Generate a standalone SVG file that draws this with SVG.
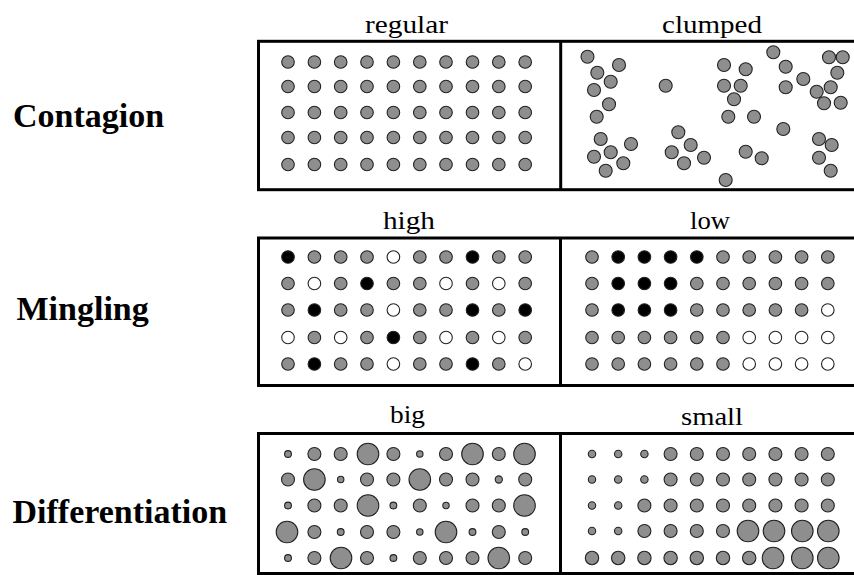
<svg xmlns="http://www.w3.org/2000/svg" width="854" height="575" viewBox="0 0 854 575">
<style>
.lab{font-family:"Liberation Serif","Times New Roman",serif;font-weight:bold;font-size:34px;fill:#000}
.ttl{font-family:"Liberation Serif","Times New Roman",serif;font-size:25px;fill:#000}
.box{fill:none;stroke:#000;stroke-width:3}
circle{stroke:#222;stroke-width:1.1}
.g{fill:#8e8e8e}
.b{fill:#000}
.w{fill:#fff}
</style>
<rect width="854" height="575" fill="#fff"/>

<g id="labels">
<text class="lab" x="13" y="127">Contagion</text>
<text class="lab" x="16.5" y="320">Mingling</text>
<text class="lab" x="12.5" y="523">Differentiation</text>
</g>

<g id="titles">
<text class="ttl" x="365" y="32.5" textLength="83" lengthAdjust="spacingAndGlyphs">regular</text>
<text class="ttl" x="662" y="33" textLength="100" lengthAdjust="spacingAndGlyphs">clumped</text>
<text class="ttl" x="383" y="228.5" textLength="52" lengthAdjust="spacingAndGlyphs">high</text>
<text class="ttl" x="690" y="228.5" textLength="40" lengthAdjust="spacingAndGlyphs">low</text>
<text class="ttl" x="390" y="423" textLength="35" lengthAdjust="spacingAndGlyphs">big</text>
<text class="ttl" x="681" y="425" textLength="62" lengthAdjust="spacingAndGlyphs">small</text>
</g>

<g id="frames">
<rect class="box" x="258.5" y="41.3" width="600" height="148.4"/>
<line class="box" x1="560.7" y1="41.3" x2="560.7" y2="189.7"/>
<rect class="box" x="258.5" y="238" width="600" height="147.5"/>
<line class="box" x1="560.5" y1="238" x2="560.5" y2="385.5"/>
<rect class="box" x="258.5" y="433.5" width="600" height="140"/>
<line class="box" x1="560.5" y1="433.5" x2="560.5" y2="573.5"/>
</g>

<g id="regular" class="g">
<g id="reg-r1"><circle cx="288" cy="62" r="6.3"/><circle cx="314.4" cy="62" r="6.3"/><circle cx="340.7" cy="62" r="6.3"/><circle cx="367" cy="62" r="6.3"/><circle cx="393.4" cy="62" r="6.3"/><circle cx="419.8" cy="62" r="6.3"/><circle cx="446" cy="62" r="6.3"/><circle cx="472.5" cy="62" r="6.3"/><circle cx="498.8" cy="62" r="6.3"/><circle cx="525.2" cy="62" r="6.3"/></g>
<g id="reg-r2"><circle cx="288" cy="86.5" r="6.3"/><circle cx="314.4" cy="86.5" r="6.3"/><circle cx="340.7" cy="86.5" r="6.3"/><circle cx="367" cy="86.5" r="6.3"/><circle cx="393.4" cy="86.5" r="6.3"/><circle cx="419.8" cy="86.5" r="6.3"/><circle cx="446" cy="86.5" r="6.3"/><circle cx="472.5" cy="86.5" r="6.3"/><circle cx="498.8" cy="86.5" r="6.3"/><circle cx="525.2" cy="86.5" r="6.3"/></g>
<g id="reg-r3"><circle cx="288" cy="112.5" r="6.3"/><circle cx="314.4" cy="112.5" r="6.3"/><circle cx="340.7" cy="112.5" r="6.3"/><circle cx="367" cy="112.5" r="6.3"/><circle cx="393.4" cy="112.5" r="6.3"/><circle cx="419.8" cy="112.5" r="6.3"/><circle cx="446" cy="112.5" r="6.3"/><circle cx="472.5" cy="112.5" r="6.3"/><circle cx="498.8" cy="112.5" r="6.3"/><circle cx="525.2" cy="112.5" r="6.3"/></g>
<g id="reg-r4"><circle cx="288" cy="137.5" r="6.3"/><circle cx="314.4" cy="137.5" r="6.3"/><circle cx="340.7" cy="137.5" r="6.3"/><circle cx="367" cy="137.5" r="6.3"/><circle cx="393.4" cy="137.5" r="6.3"/><circle cx="419.8" cy="137.5" r="6.3"/><circle cx="446" cy="137.5" r="6.3"/><circle cx="472.5" cy="137.5" r="6.3"/><circle cx="498.8" cy="137.5" r="6.3"/><circle cx="525.2" cy="137.5" r="6.3"/></g>
<g id="reg-r5"><circle cx="288" cy="164.5" r="6.3"/><circle cx="314.4" cy="164.5" r="6.3"/><circle cx="340.7" cy="164.5" r="6.3"/><circle cx="367" cy="164.5" r="6.3"/><circle cx="393.4" cy="164.5" r="6.3"/><circle cx="419.8" cy="164.5" r="6.3"/><circle cx="446" cy="164.5" r="6.3"/><circle cx="472.5" cy="164.5" r="6.3"/><circle cx="498.8" cy="164.5" r="6.3"/><circle cx="525.2" cy="164.5" r="6.3"/></g>
</g>

<g id="clumped" class="g">
<circle cx="587.5" cy="56.7" r="6.5"/><circle cx="619" cy="65" r="6.5"/><circle cx="597.3" cy="72.7" r="6.5"/><circle cx="610.7" cy="81.7" r="6.5"/><circle cx="594" cy="90" r="6.5"/><circle cx="609" cy="104.3" r="6.5"/><circle cx="596.7" cy="116.7" r="6.5"/>
<circle cx="665.7" cy="85.7" r="6.5"/>
<circle cx="724" cy="65" r="6.5"/><circle cx="745.7" cy="69.3" r="6.5"/><circle cx="724" cy="85.7" r="6.5"/><circle cx="740.7" cy="85.7" r="6.5"/><circle cx="734" cy="99.3" r="6.5"/><circle cx="728.3" cy="116.7" r="6.5"/><circle cx="754" cy="116.7" r="6.5"/>
<circle cx="773.3" cy="52.3" r="6.5"/><circle cx="785.7" cy="66.7" r="6.5"/><circle cx="785.7" cy="87.3" r="6.5"/><circle cx="803.3" cy="79" r="6.5"/>
<circle cx="829" cy="57.3" r="6.5"/><circle cx="842.7" cy="57.3" r="6.5"/><circle cx="837.3" cy="72.7" r="6.5"/><circle cx="830.7" cy="87.3" r="6.5"/><circle cx="816.7" cy="91.7" r="6.5"/><circle cx="824" cy="103.3" r="6.5"/><circle cx="840.7" cy="102.7" r="6.5"/>
<circle cx="783.3" cy="129" r="6.5"/>
<circle cx="600.7" cy="139" r="6.5"/><circle cx="631" cy="144" r="6.5"/><circle cx="610.7" cy="152.3" r="6.5"/><circle cx="594" cy="156.7" r="6.5"/><circle cx="623.3" cy="163.3" r="6.5"/><circle cx="605.7" cy="170.7" r="6.5"/>
<circle cx="678.3" cy="132.3" r="6.5"/><circle cx="690.7" cy="145" r="6.5"/><circle cx="671.7" cy="152.3" r="6.5"/><circle cx="704" cy="157.7" r="6.5"/><circle cx="684" cy="163.3" r="6.5"/>
<circle cx="745.7" cy="151.7" r="6.5"/><circle cx="761.7" cy="158.3" r="6.5"/>
<circle cx="725.7" cy="180" r="6.5"/>
<circle cx="819" cy="139" r="6.5"/><circle cx="831.7" cy="145" r="6.5"/><circle cx="819" cy="157.7" r="6.5"/><circle cx="830.7" cy="170.7" r="6.5"/>
</g>

<g id="high">
<g id="high-r1"><circle class="b" cx="288" cy="257" r="6.3"/><circle class="g" cx="314.4" cy="257" r="6.3"/><circle class="g" cx="340.7" cy="257" r="6.3"/><circle class="g" cx="367" cy="257" r="6.3"/><circle class="w" cx="393.4" cy="257" r="6.3"/><circle class="g" cx="419.8" cy="257" r="6.3"/><circle class="g" cx="446" cy="257" r="6.3"/><circle class="b" cx="472.5" cy="257" r="6.3"/><circle class="g" cx="498.8" cy="257" r="6.3"/><circle class="g" cx="525.2" cy="257" r="6.3"/></g>
<g id="high-r2"><circle class="g" cx="288" cy="283.5" r="6.3"/><circle class="w" cx="314.4" cy="283.5" r="6.3"/><circle class="g" cx="340.7" cy="283.5" r="6.3"/><circle class="b" cx="367" cy="283.5" r="6.3"/><circle class="g" cx="393.4" cy="283.5" r="6.3"/><circle class="g" cx="419.8" cy="283.5" r="6.3"/><circle class="w" cx="446" cy="283.5" r="6.3"/><circle class="g" cx="472.5" cy="283.5" r="6.3"/><circle class="w" cx="498.8" cy="283.5" r="6.3"/><circle class="g" cx="525.2" cy="283.5" r="6.3"/></g>
<g id="high-r3"><circle class="g" cx="288" cy="310" r="6.3"/><circle class="b" cx="314.4" cy="310" r="6.3"/><circle class="g" cx="340.7" cy="310" r="6.3"/><circle class="g" cx="367" cy="310" r="6.3"/><circle class="w" cx="393.4" cy="310" r="6.3"/><circle class="g" cx="419.8" cy="310" r="6.3"/><circle class="g" cx="446" cy="310" r="6.3"/><circle class="b" cx="472.5" cy="310" r="6.3"/><circle class="g" cx="498.8" cy="310" r="6.3"/><circle class="b" cx="525.2" cy="310" r="6.3"/></g>
<g id="high-r4"><circle class="w" cx="288" cy="337.5" r="6.3"/><circle class="g" cx="314.4" cy="337.5" r="6.3"/><circle class="w" cx="340.7" cy="337.5" r="6.3"/><circle class="g" cx="367" cy="337.5" r="6.3"/><circle class="b" cx="393.4" cy="337.5" r="6.3"/><circle class="g" cx="419.8" cy="337.5" r="6.3"/><circle class="w" cx="446" cy="337.5" r="6.3"/><circle class="g" cx="472.5" cy="337.5" r="6.3"/><circle class="w" cx="498.8" cy="337.5" r="6.3"/><circle class="g" cx="525.2" cy="337.5" r="6.3"/></g>
<g id="high-r5"><circle class="g" cx="288" cy="364" r="6.3"/><circle class="b" cx="314.4" cy="364" r="6.3"/><circle class="g" cx="340.7" cy="364" r="6.3"/><circle class="g" cx="367" cy="364" r="6.3"/><circle class="w" cx="393.4" cy="364" r="6.3"/><circle class="g" cx="419.8" cy="364" r="6.3"/><circle class="g" cx="446" cy="364" r="6.3"/><circle class="b" cx="472.5" cy="364" r="6.3"/><circle class="g" cx="498.8" cy="364" r="6.3"/><circle class="w" cx="525.2" cy="364" r="6.3"/></g>
</g>

<g id="low">
<g id="low-r1"><circle class="g" cx="592" cy="257" r="6.3"/><circle class="b" cx="618.2" cy="257" r="6.3"/><circle class="b" cx="644.4" cy="257" r="6.3"/><circle class="b" cx="670.6" cy="257" r="6.3"/><circle class="b" cx="696.8" cy="257" r="6.3"/><circle class="g" cx="723" cy="257" r="6.3"/><circle class="g" cx="749.2" cy="257" r="6.3"/><circle class="g" cx="775.4" cy="257" r="6.3"/><circle class="g" cx="801.6" cy="257" r="6.3"/><circle class="g" cx="827.8" cy="257" r="6.3"/></g>
<g id="low-r2"><circle class="g" cx="592" cy="283.5" r="6.3"/><circle class="b" cx="618.2" cy="283.5" r="6.3"/><circle class="b" cx="644.4" cy="283.5" r="6.3"/><circle class="b" cx="670.6" cy="283.5" r="6.3"/><circle class="g" cx="696.8" cy="283.5" r="6.3"/><circle class="g" cx="723" cy="283.5" r="6.3"/><circle class="g" cx="749.2" cy="283.5" r="6.3"/><circle class="g" cx="775.4" cy="283.5" r="6.3"/><circle class="g" cx="801.6" cy="283.5" r="6.3"/><circle class="g" cx="827.8" cy="283.5" r="6.3"/></g>
<g id="low-r3"><circle class="g" cx="592" cy="310" r="6.3"/><circle class="b" cx="618.2" cy="310" r="6.3"/><circle class="b" cx="644.4" cy="310" r="6.3"/><circle class="b" cx="670.6" cy="310" r="6.3"/><circle class="g" cx="696.8" cy="310" r="6.3"/><circle class="g" cx="723" cy="310" r="6.3"/><circle class="g" cx="749.2" cy="310" r="6.3"/><circle class="g" cx="775.4" cy="310" r="6.3"/><circle class="g" cx="801.6" cy="310" r="6.3"/><circle class="w" cx="827.8" cy="310" r="6.3"/></g>
<g id="low-r4"><circle class="g" cx="592" cy="337.5" r="6.3"/><circle class="g" cx="618.2" cy="337.5" r="6.3"/><circle class="g" cx="644.4" cy="337.5" r="6.3"/><circle class="g" cx="670.6" cy="337.5" r="6.3"/><circle class="g" cx="696.8" cy="337.5" r="6.3"/><circle class="g" cx="723" cy="337.5" r="6.3"/><circle class="w" cx="749.2" cy="337.5" r="6.3"/><circle class="w" cx="775.4" cy="337.5" r="6.3"/><circle class="w" cx="801.6" cy="337.5" r="6.3"/><circle class="w" cx="827.8" cy="337.5" r="6.3"/></g>
<g id="low-r5"><circle class="g" cx="592" cy="364" r="6.3"/><circle class="g" cx="618.2" cy="364" r="6.3"/><circle class="g" cx="644.4" cy="364" r="6.3"/><circle class="g" cx="670.6" cy="364" r="6.3"/><circle class="g" cx="696.8" cy="364" r="6.3"/><circle class="g" cx="723" cy="364" r="6.3"/><circle class="w" cx="749.2" cy="364" r="6.3"/><circle class="w" cx="775.4" cy="364" r="6.3"/><circle class="w" cx="801.6" cy="364" r="6.3"/><circle class="w" cx="827.8" cy="364" r="6.3"/></g>
</g>

<g id="big" class="g">
<g id="big-r1"><circle cx="288" cy="454" r="3.4"/><circle cx="314.4" cy="454" r="6.5"/><circle cx="340.7" cy="454" r="6.5"/><circle cx="368" cy="454" r="10.8"/><circle cx="393.4" cy="454" r="6.5"/><circle cx="419.8" cy="454" r="3.2"/><circle cx="446" cy="454" r="6.5"/><circle cx="472.5" cy="454" r="10.8"/><circle cx="498.8" cy="454" r="6.5"/><circle cx="524.5" cy="454" r="10.8"/></g>
<g id="big-r2"><circle cx="288" cy="479.5" r="6.5"/><circle cx="314.4" cy="479.5" r="10.8"/><circle cx="340.7" cy="479.5" r="3.2"/><circle cx="367" cy="479.5" r="6.5"/><circle cx="393.4" cy="479.5" r="6.5"/><circle cx="419.8" cy="479.5" r="10.8"/><circle cx="446" cy="479.5" r="6.5"/><circle cx="472.5" cy="479.5" r="6.5"/><circle cx="498.8" cy="479.5" r="3.6"/><circle cx="525.2" cy="479.5" r="6.5"/></g>
<g id="big-r3"><circle cx="288" cy="505.5" r="3.4"/><circle cx="314.4" cy="505.5" r="6.5"/><circle cx="340.7" cy="505.5" r="6.5"/><circle cx="368" cy="505.5" r="10.8"/><circle cx="393.4" cy="505.5" r="3.4"/><circle cx="419.8" cy="505.5" r="6.5"/><circle cx="446" cy="505.5" r="3.2"/><circle cx="472.5" cy="505.5" r="6.5"/><circle cx="498.8" cy="505.5" r="6.5"/><circle cx="524.5" cy="505.5" r="10.8"/></g>
<g id="big-r4"><circle cx="287" cy="532" r="10.8"/><circle cx="314.4" cy="532" r="6.5"/><circle cx="340.7" cy="532" r="3.4"/><circle cx="367" cy="532" r="6.5"/><circle cx="393.4" cy="532" r="6.5"/><circle cx="419.8" cy="532" r="3.2"/><circle cx="446" cy="532" r="10.8"/><circle cx="472.5" cy="532" r="3.4"/><circle cx="498.8" cy="532" r="6.5"/><circle cx="525.2" cy="532" r="3.4"/></g>
<g id="big-r5"><circle cx="288" cy="558" r="3.4"/><circle cx="314.4" cy="558" r="6.5"/><circle cx="341" cy="558" r="10.8"/><circle cx="367" cy="558" r="6.5"/><circle cx="393.4" cy="558" r="3.4"/><circle cx="419.8" cy="558" r="6.5"/><circle cx="446" cy="558" r="6.5"/><circle cx="472.5" cy="558" r="6.5"/><circle cx="498.8" cy="558" r="10.8"/><circle cx="525.2" cy="558" r="6.5"/></g>
</g>

<g id="small" class="g">
<g id="small-r1"><circle cx="592" cy="454" r="3.7"/><circle cx="618.2" cy="454" r="3.7"/><circle cx="644.4" cy="454" r="3.7"/><circle cx="670.6" cy="454" r="6.5"/><circle cx="696.8" cy="454" r="6.5"/><circle cx="723" cy="454" r="6.5"/><circle cx="749.2" cy="454" r="6.5"/><circle cx="775.4" cy="454" r="6.5"/><circle cx="801.6" cy="454" r="6.5"/><circle cx="827.8" cy="454" r="6.5"/></g>
<g id="small-r2"><circle cx="592" cy="479.5" r="3.7"/><circle cx="618.2" cy="479.5" r="3.7"/><circle cx="644.4" cy="479.5" r="3.7"/><circle cx="670.6" cy="479.5" r="6.5"/><circle cx="696.8" cy="479.5" r="6.5"/><circle cx="723" cy="479.5" r="6.5"/><circle cx="749.2" cy="479.5" r="6.5"/><circle cx="775.4" cy="479.5" r="6.5"/><circle cx="801.6" cy="479.5" r="6.5"/><circle cx="827.8" cy="479.5" r="6.5"/></g>
<g id="small-r3"><circle cx="592" cy="505.5" r="3.7"/><circle cx="618.2" cy="505.5" r="3.7"/><circle cx="644.4" cy="505.5" r="6.5"/><circle cx="670.6" cy="505.5" r="6.5"/><circle cx="696.8" cy="505.5" r="6.5"/><circle cx="723" cy="505.5" r="6.5"/><circle cx="749.2" cy="505.5" r="6.5"/><circle cx="775.4" cy="505.5" r="6.5"/><circle cx="801.6" cy="505.5" r="6.5"/><circle cx="827.8" cy="505.5" r="6.5"/></g>
<g id="small-r4"><circle cx="592" cy="531" r="3.7"/><circle cx="618.2" cy="531" r="3.7"/><circle cx="644.4" cy="531" r="6.5"/><circle cx="670.6" cy="531" r="6.5"/><circle cx="696.8" cy="531" r="6.5"/><circle cx="723" cy="531" r="6.5"/><circle cx="748" cy="531" r="10.8"/><circle cx="774" cy="531" r="10.8"/><circle cx="802.3" cy="531" r="10.8"/><circle cx="828.3" cy="531" r="10.8"/></g>
<g id="small-r5"><circle cx="592" cy="558" r="6.7"/><circle cx="618.2" cy="558" r="6.7"/><circle cx="644.4" cy="558" r="6.7"/><circle cx="670.6" cy="558" r="6.7"/><circle cx="696.8" cy="558" r="6.7"/><circle cx="723" cy="558" r="6.7"/><circle cx="749.2" cy="558" r="6.7"/><circle cx="773" cy="558" r="10.8"/><circle cx="802.3" cy="558" r="10.8"/><circle cx="828.3" cy="558" r="10.8"/></g>
</g>
</svg>
